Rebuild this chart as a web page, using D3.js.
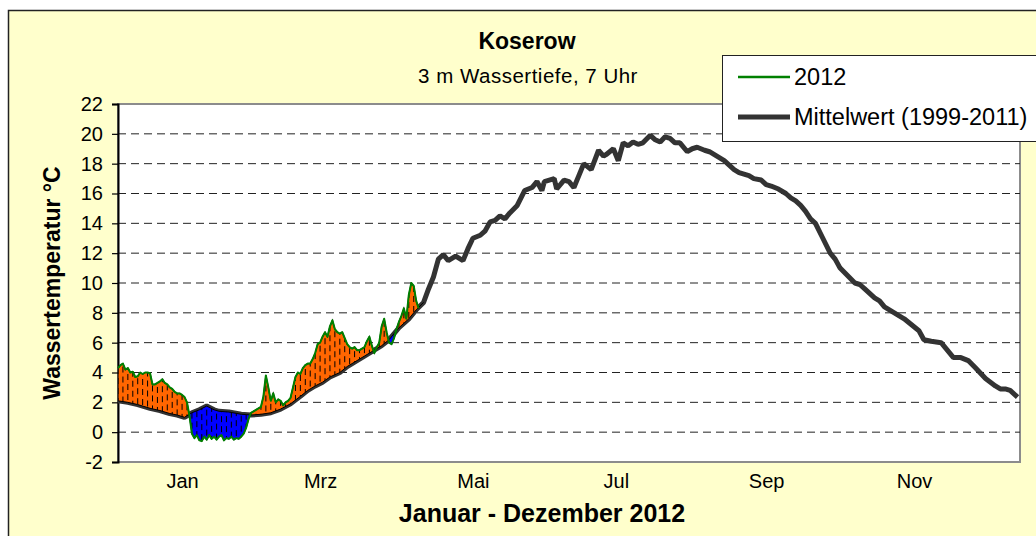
<!DOCTYPE html>
<html lang="de">
<head>
  <meta charset="UTF-8">
  <title>Koserow Wassertemperatur 2012</title>
  <script src="https://d3js.org/d3.v7.min.js"></script>
  <style>
    body { margin: 0; background: #fff; }
    svg { display: block; }
    text { font-family: "Liberation Sans", Arial, sans-serif; fill: #000; }
  </style>
</head>
<body>
  <svg width="1036" height="536"></svg>

  <script>
    // Mittelwert 1999-2011, [Tag im Jahr, °C]
    const meanSeries = [
      [0, 2.1], [4, 2.0], [8, 1.85], [13, 1.6], [17, 1.45], [21, 1.25], [24, 1.15], [27, 1.0],
      [30, 1.3], [33, 1.5], [36, 1.75], [39, 1.5], [41, 1.4], [45, 1.35], [50, 1.2], [54, 1.15],
      [58, 1.2], [62, 1.3], [66, 1.55], [70, 1.9], [74, 2.4], [77, 2.8], [80, 3.1], [83, 3.35],
      [86, 3.7], [90, 4.0], [93, 4.4], [97, 4.8], [100, 5.1], [103, 5.4], [107, 5.8], [110, 6.2],
      [114, 7.0], [118, 7.6], [121, 8.2], [124, 8.7], [126, 9.6], [128, 10.4], [130, 11.6], [132, 11.9],
      [134, 11.5], [137, 11.8], [140, 11.5], [142, 12.3], [144, 13.0], [147, 13.2], [149, 13.5], [151, 14.1],
      [153, 14.2], [155, 14.5], [157, 14.3], [159, 14.7], [162, 15.2], [165, 16.2], [168, 16.4], [170, 16.8],
      [172, 16.2], [173, 16.8], [175, 16.9], [177, 17.0], [178, 16.3], [181, 16.9], [183, 16.8], [185, 16.4],
      [187, 17.2], [189, 18.0], [192, 17.6], [195, 18.9], [197, 18.5], [198, 18.6], [201, 19.0], [203, 18.2],
      [205, 19.4], [207, 19.2], [209, 19.45], [211, 19.3], [213, 19.4], [216, 19.9], [218, 19.6], [220, 19.45],
      [222, 19.8], [224, 19.7], [226, 19.4], [228, 19.4], [231, 18.8], [233, 19.0], [235, 19.1], [238, 18.9],
      [240, 18.8], [242, 18.6], [244, 18.4], [246, 18.2], [248, 17.9], [250, 17.6], [252, 17.4], [256, 17.2],
      [258, 17.0], [261, 16.9], [263, 16.6], [265, 16.5], [268, 16.3], [271, 16.0], [273, 15.7], [275, 15.5],
      [277, 15.2], [279, 14.8], [281, 14.3], [283, 14.0], [286, 13.0], [289, 12.0], [291, 11.6], [293, 11.0],
      [296, 10.5], [299, 10.0], [301, 9.9], [303, 9.6], [305, 9.3], [307, 9.0], [309, 8.8], [311, 8.4],
      [313, 8.2], [315, 8.0], [317, 7.8], [319, 7.6], [322, 7.2], [325, 6.8], [327, 6.2], [330, 6.1],
      [334, 6.0], [336, 5.6], [339, 5.0], [342, 5.0], [345, 4.8], [348, 4.3], [350, 3.95], [352, 3.6],
      [354, 3.35], [356, 3.1], [358, 2.9], [360, 2.9], [362, 2.8], [365, 2.35]
    ];

    // 2012, [Tag im Jahr, °C]
    const series2012 = [
      [0, 4.3], [1, 4.5], [2, 4.6], [3, 4.2], [4, 4.3], [5, 4.0], [6, 4.05], [7, 3.7], [8, 3.75], [9, 4.0],
      [10, 3.9], [11, 4.0], [12, 4.0], [13, 3.95], [14, 3.2], [15, 3.2], [16, 3.3], [17, 3.4], [18, 3.55], [19, 3.3],
      [20, 3.2], [21, 3.0], [22, 2.9], [23, 2.7], [24, 2.6], [25, 2.6], [26, 2.5], [27, 2.35], [28, 2.0], [29, 1.1],
      [30, -0.1], [31, -0.4], [32, -0.2], [33, -0.55], [34, -0.6], [35, -0.3], [36, -0.5], [37, -0.2], [38, -0.45], [39, -0.3],
      [40, -0.5], [41, -0.3], [42, -0.2], [43, -0.55], [44, -0.4], [45, -0.45], [46, -0.3], [47, -0.5], [48, -0.4], [49, -0.45],
      [50, -0.3], [51, -0.1], [52, 0.3], [53, 0.9], [54, 1.3], [55, 1.4], [56, 1.5], [57, 1.6], [58, 1.7], [59, 2.4],
      [60, 3.8], [61, 3.0], [62, 2.1], [63, 2.6], [64, 2.0], [65, 2.2], [66, 2.1], [67, 1.8], [68, 2.0], [69, 2.1],
      [70, 2.3], [71, 3.0], [72, 3.7], [73, 4.0], [74, 3.9], [75, 4.3], [76, 4.5], [77, 4.6], [78, 4.6], [79, 4.9],
      [80, 5.3], [81, 5.9], [82, 6.0], [83, 6.4], [84, 6.7], [85, 6.4], [86, 7.1], [87, 7.5], [88, 6.9], [89, 6.7],
      [90, 6.6], [91, 6.7], [92, 6.3], [93, 5.9], [94, 5.7], [95, 5.6], [96, 5.7], [97, 5.5], [98, 5.5], [99, 5.6],
      [100, 5.7], [101, 6.1], [102, 6.4], [103, 5.8], [104, 5.3], [105, 5.7], [106, 6.0], [107, 7.1], [108, 7.6], [109, 6.7],
      [110, 6.0], [111, 5.9], [112, 6.3], [113, 6.9], [114, 7.4], [115, 7.8], [116, 8.3], [117, 7.6], [118, 9.2], [119, 10.0],
      [120, 9.8], [121, 8.8], [122, 8.3]
    ];

    const yTicks = [-2, 0, 2, 4, 6, 8, 10, 12, 14, 16, 18, 20, 22];
    const monthLabels = ["Jan", "Mrz", "Mai", "Jul", "Sep", "Nov"];
    const monthLabelDates = ["2012-01-27", "2012-03-23", "2012-05-24", "2012-07-21", "2012-09-20", "2012-11-19"];
    const legendLabels = ["2012", "Mittelwert (1999-2011)"];

    const svg = d3.select("svg");
    const plot = { left: 118, top: 104, right: 1020, bottom: 462 };
    const start = new Date(Date.UTC(2012, 0, 1));
    const dayDate = d => d3.utcDay.offset(start, d);

    const x = d3.scaleUtc()
      .domain([start, new Date(Date.UTC(2013, 0, 1))])
      .range([plot.left, plot.right]);
    const y = d3.scaleLinear().domain([-2, 22]).range([plot.bottom, plot.top]);

    // chart background
    svg.append("rect")
      .attr("x", 8.5).attr("y", 10.5)
      .attr("width", 1100).attr("height", 600)
      .attr("fill", "#ffffcc").attr("stroke", "#222").attr("stroke-width", 1.5);

    // plot area
    svg.append("rect")
      .attr("x", plot.left).attr("y", plot.top)
      .attr("width", plot.right - plot.left).attr("height", plot.bottom - plot.top)
      .attr("fill", "#fff").attr("stroke", "#8c8c8c").attr("stroke-width", 2);

    // dashed grid
    svg.append("g")
      .selectAll("line")
      .data(yTicks.filter(v => v > -2 && v < 22))
      .join("line")
      .attr("x1", plot.left).attr("x2", plot.right)
      .attr("y1", d => y(d)).attr("y2", d => y(d))
      .attr("stroke", "#222").attr("stroke-width", 1)
      .attr("stroke-dasharray", "8,5");

    // y axis
    const yAxis = svg.append("g")
      .attr("transform", `translate(${plot.left},0)`)
      .call(d3.axisLeft(y).tickValues(yTicks).tickFormat(d => String(d)).tickSize(6).tickPadding(9));
    yAxis.select(".domain").attr("stroke", "#000").attr("stroke-width", 2);
    yAxis.selectAll(".tick line").attr("stroke", "#000").attr("stroke-width", 1.2);
    yAxis.selectAll(".tick text")
      .style("font-family", '"Liberation Sans", Arial, sans-serif')
      .style("font-size", "20px").attr("fill", "#000");

    // x axis labels
    const xAxis = svg.append("g")
      .attr("transform", `translate(0,${plot.bottom})`)
      .call(d3.axisBottom(x)
        .tickValues(monthLabelDates.map(s => new Date(s + "T00:00:00Z")))
        .tickFormat((d, i) => monthLabels[i])
        .tickSize(0).tickPadding(12));
    xAxis.select(".domain").remove();
    xAxis.selectAll(".tick text")
      .style("font-family", '"Liberation Sans", Arial, sans-serif')
      .style("font-size", "20px").attr("fill", "#000");

    // clip regions: above and below the mean line
    const defs = svg.append("defs");
    defs.append("clipPath").attr("id", "aboveMean")
      .append("path")
      .attr("d", d3.area().x(d => x(dayDate(d[0]))).y0(plot.top).y1(d => y(d[1]))(meanSeries));
    defs.append("clipPath").attr("id", "belowMean")
      .append("path")
      .attr("d", d3.area().x(d => x(dayDate(d[0]))).y0(plot.bottom).y1(d => y(d[1]))(meanSeries));

    const meanLine = d3.line().x(d => x(dayDate(d[0]))).y(d => y(d[1]));
    const line2012 = d3.line().x(d => x(dayDate(d[0]))).y(d => y(d[1]));

    // Mittelwert line
    svg.append("path")
      .datum(meanSeries)
      .attr("d", meanLine)
      .attr("fill", "none").attr("stroke", "#333").attr("stroke-width", 5)
      .attr("stroke-linejoin", "bevel");

    // warmer than mean: orange
    const warm = svg.append("g").attr("clip-path", "url(#aboveMean)");
    warm.append("path")
      .datum(series2012)
      .attr("d", d3.area().x(d => x(dayDate(d[0]))).y0(plot.bottom).y1(d => y(d[1])))
      .attr("fill", "#ff6600").attr("stroke", "#000").attr("stroke-width", 1.2);
    warm.append("g")
      .selectAll("line")
      .data(series2012.filter((d, i) => i % 2 === 0))
      .join("line")
      .attr("x1", d => x(dayDate(d[0]))).attr("x2", d => x(dayDate(d[0])))
      .attr("y1", d => y(d[1])).attr("y2", plot.bottom)
      .attr("stroke", "#000").attr("stroke-width", 1)
      .attr("stroke-dasharray", "6,4")
      .attr("stroke-dashoffset", (d, i) => (i * 7) % 10);

    // colder than mean: blue
    const cold = svg.append("g").attr("clip-path", "url(#belowMean)");
    cold.append("path")
      .datum(series2012)
      .attr("d", d3.area().x(d => x(dayDate(d[0]))).y0(plot.top).y1(d => y(d[1])))
      .attr("fill", "#0000ff").attr("stroke", "#000").attr("stroke-width", 1.2);
    cold.append("g")
      .selectAll("line")
      .data(series2012.filter((d, i) => i % 2 === 0))
      .join("line")
      .attr("x1", d => x(dayDate(d[0]))).attr("x2", d => x(dayDate(d[0])))
      .attr("y1", d => y(d[1])).attr("y2", plot.top)
      .attr("stroke", "#000").attr("stroke-width", 1)
      .attr("stroke-dasharray", "6,4")
      .attr("stroke-dashoffset", (d, i) => (i * 7) % 10);

    // thin edge along the mean where 2012 data exists
    svg.append("path")
      .datum(meanSeries.filter(d => d[0] <= series2012[series2012.length - 1][0] + 2))
      .attr("d", meanLine)
      .attr("fill", "none").attr("stroke", "#000").attr("stroke-width", 1);

    // 2012 line
    svg.append("path")
      .datum(series2012)
      .attr("d", line2012)
      .attr("fill", "none").attr("stroke", "#008000").attr("stroke-width", 2)
      .attr("stroke-linejoin", "round");

    // titles
    svg.append("text")
      .attr("x", 527).attr("y", 49).attr("text-anchor", "middle")
      .style("font-size", "23px").style("font-weight", "bold")
      .text("Koserow");
    svg.append("text")
      .attr("x", 528).attr("y", 83).attr("text-anchor", "middle")
      .style("font-size", "20.5px").style("letter-spacing", "0.5px")
      .text("3 m Wassertiefe, 7 Uhr");
    svg.append("text")
      .attr("transform", "translate(60,283) rotate(-90)")
      .attr("text-anchor", "middle")
      .style("font-size", "23px").style("font-weight", "bold")
      .text("Wassertemperatur °C");
    svg.append("text")
      .attr("x", 542).attr("y", 522).attr("text-anchor", "middle")
      .style("font-size", "25px").style("font-weight", "bold")
      .text("Januar - Dezember 2012");

    // legend
    const legend = svg.append("g").attr("transform", "translate(722,55)");
    legend.append("rect")
      .attr("x", 0.5).attr("y", 0.5).attr("width", 340).attr("height", 86)
      .attr("fill", "#fff").attr("stroke", "#222").attr("stroke-width", 1);
    const legendStyles = [
      { color: "#008000", width: 2.5, y: 22 },
      { color: "#333", width: 5, y: 62 }
    ];
    legendLabels.forEach((label, i) => {
      const s = legendStyles[i];
      legend.append("line")
        .attr("x1", 16).attr("x2", 68).attr("y1", s.y).attr("y2", s.y)
        .attr("stroke", s.color).attr("stroke-width", s.width);
      legend.append("text")
        .attr("x", 72).attr("y", s.y + 8)
        .style("font-size", "23.5px")
        .text(label);
    });
  </script>
</body>
</html>
